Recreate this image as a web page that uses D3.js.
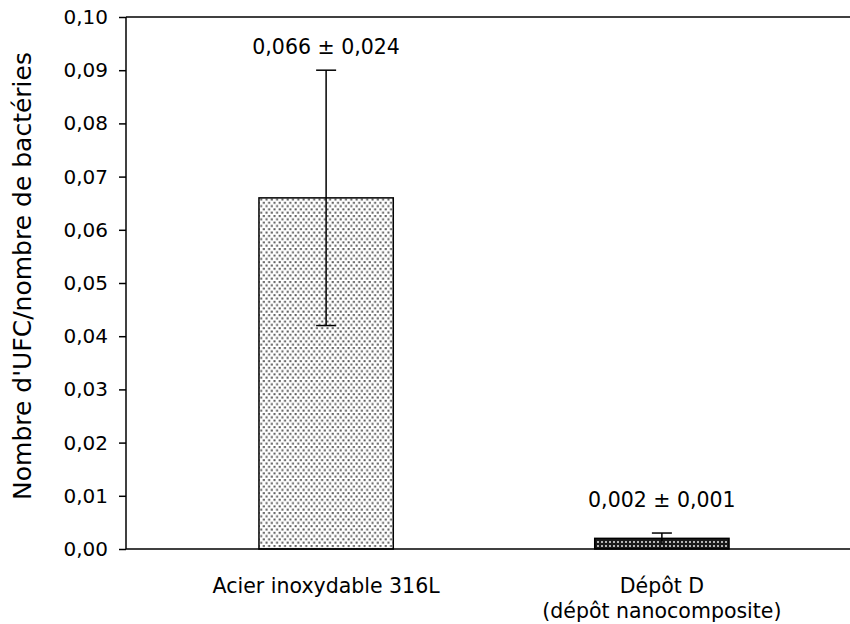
<!DOCTYPE html>
<html>
<head>
<meta charset="utf-8">
<script src="https://cdn.jsdelivr.net/npm/d3@7"></script>
<style>
  html, body { margin: 0; padding: 0; background: #fff; }
  svg { display: block; font-family: "DejaVu Sans", Verdana, sans-serif; }
</style>
</head>
<body>
<svg id="chart" width="850" height="624"></svg>
<script>
// Bacterial survival ratio per surface
const categories = ["Acier inoxydable 316L", "Dépôt D"];
const subLabels = ["", "(dépôt nanocomposite)"];
const means = [0.066, 0.002];
const errors = [0.024, 0.001];
const yTicks = [0, 0.01, 0.02, 0.03, 0.04, 0.05, 0.06, 0.07, 0.08, 0.09, 0.10];
const yTitle = "Nombre d'UFC/nombre de bactéries";

const width = 850, height = 624;
const margin = { left: 126, top: 17, bottom: 75 };
const plotBottom = height - margin.bottom;

const svg = d3.select("#chart");
const fmt = v => d3.format(".3f")(v).replace(".", ",");
const fmtTick = v => d3.format(".2f")(v).replace(".", ",");

// Fill patterns for the two bars
const defs = svg.append("defs");
const pLight = defs.append("pattern")
  .attr("id", "dotsLight").attr("patternUnits", "userSpaceOnUse")
  .attr("width", 5.3).attr("height", 6.6);
pLight.append("rect").attr("width", 5.3).attr("height", 6.6).attr("fill", "#fff");
pLight.append("rect").attr("x", 0.5).attr("y", 0.5).attr("width", 2).attr("height", 2).attr("fill", "#5a5a5a");
pLight.append("rect").attr("x", 3.15).attr("y", 3.8).attr("width", 2).attr("height", 2).attr("fill", "#5a5a5a");

const pDark = defs.append("pattern")
  .attr("id", "dotsDark").attr("patternUnits", "userSpaceOnUse")
  .attr("width", 4).attr("height", 4);
pDark.append("rect").attr("width", 4).attr("height", 4).attr("fill", "#1a1a1a");
pDark.append("rect").attr("x", 1).attr("y", 1).attr("width", 2).attr("height", 2).attr("fill", "#b5b5b5");

const x = d3.scaleBand()
  .domain(categories)
  .range([margin.left, 862])
  .paddingInner(0.6)
  .paddingOuter(0.396);

const y = d3.scaleLinear()
  .domain([0, 0.10])
  .range([plotBottom, margin.top]);

// Bars
svg.append("g").selectAll("rect")
  .data(categories)
  .join("rect")
  .attr("x", d => x(d))
  .attr("y", (d, i) => y(means[i]))
  .attr("width", x.bandwidth())
  .attr("height", (d, i) => y(0) - y(means[i]))
  .attr("fill", (d, i) => i === 0 ? "url(#dotsLight)" : "url(#dotsDark)")
  .attr("stroke", "#000")
  .attr("stroke-width", 1.5);

// Error bars with value labels
const capW = 10;
const eb = svg.append("g").attr("stroke", "#000").attr("stroke-width", 1.5);
categories.forEach((c, i) => {
  const cx = x(c) + x.bandwidth() / 2;
  const hi = y(means[i] + errors[i]);
  const lo = y(means[i] - errors[i]);
  eb.append("line").attr("x1", cx).attr("x2", cx).attr("y1", hi).attr("y2", lo);
  eb.append("line").attr("x1", cx - capW).attr("x2", cx + capW).attr("y1", hi).attr("y2", hi);
  if (i === 0) {
    eb.append("line").attr("x1", cx - capW).attr("x2", cx + capW).attr("y1", lo).attr("y2", lo);
  }
  svg.append("text")
    .attr("x", cx)
    .attr("y", hi - (i === 0 ? 16 : 26))
    .attr("text-anchor", "middle")
    .attr("font-size", 20.5)
    .attr("fill", "#000")
    .text(`${fmt(means[i])} ± ${fmt(errors[i])}`);
});

// Y axis
const yAxis = svg.append("g")
  .attr("transform", `translate(${margin.left},0)`)
  .call(d3.axisLeft(y).tickValues(yTicks).tickFormat(fmtTick).tickSize(7).tickPadding(11));
yAxis.select(".domain").attr("stroke-width", 1.5).attr("d", `M-0,${margin.top}V${plotBottom}`);
yAxis.selectAll(".tick line").attr("stroke-width", 1.5);
yAxis.selectAll(".tick text")
  .attr("font-size", 20)
  .attr("font-family", "DejaVu Sans, Verdana, sans-serif")
  .attr("fill", "#000");

// Top and bottom frame lines
svg.append("line").attr("x1", margin.left).attr("x2", width)
  .attr("y1", margin.top).attr("y2", margin.top)
  .attr("stroke", "#000").attr("stroke-width", 1.5);
svg.append("line").attr("x1", margin.left).attr("x2", width)
  .attr("y1", plotBottom).attr("y2", plotBottom)
  .attr("stroke", "#000").attr("stroke-width", 1.5);

// Category labels
categories.forEach((c, i) => {
  const cx = x(c) + x.bandwidth() / 2;
  svg.append("text").attr("x", cx).attr("y", 593)
    .attr("text-anchor", "middle").attr("font-size", 20.5).text(c);
  if (subLabels[i]) {
    svg.append("text").attr("x", cx).attr("y", 618)
      .attr("text-anchor", "middle").attr("font-size", 20.5).text(subLabels[i]);
  }
});

// Y axis title
svg.append("text")
  .attr("transform", `translate(31,276) rotate(-90)`)
  .attr("text-anchor", "middle")
  .attr("font-size", 25)
  .text(yTitle);
</script>
</body>
</html>
